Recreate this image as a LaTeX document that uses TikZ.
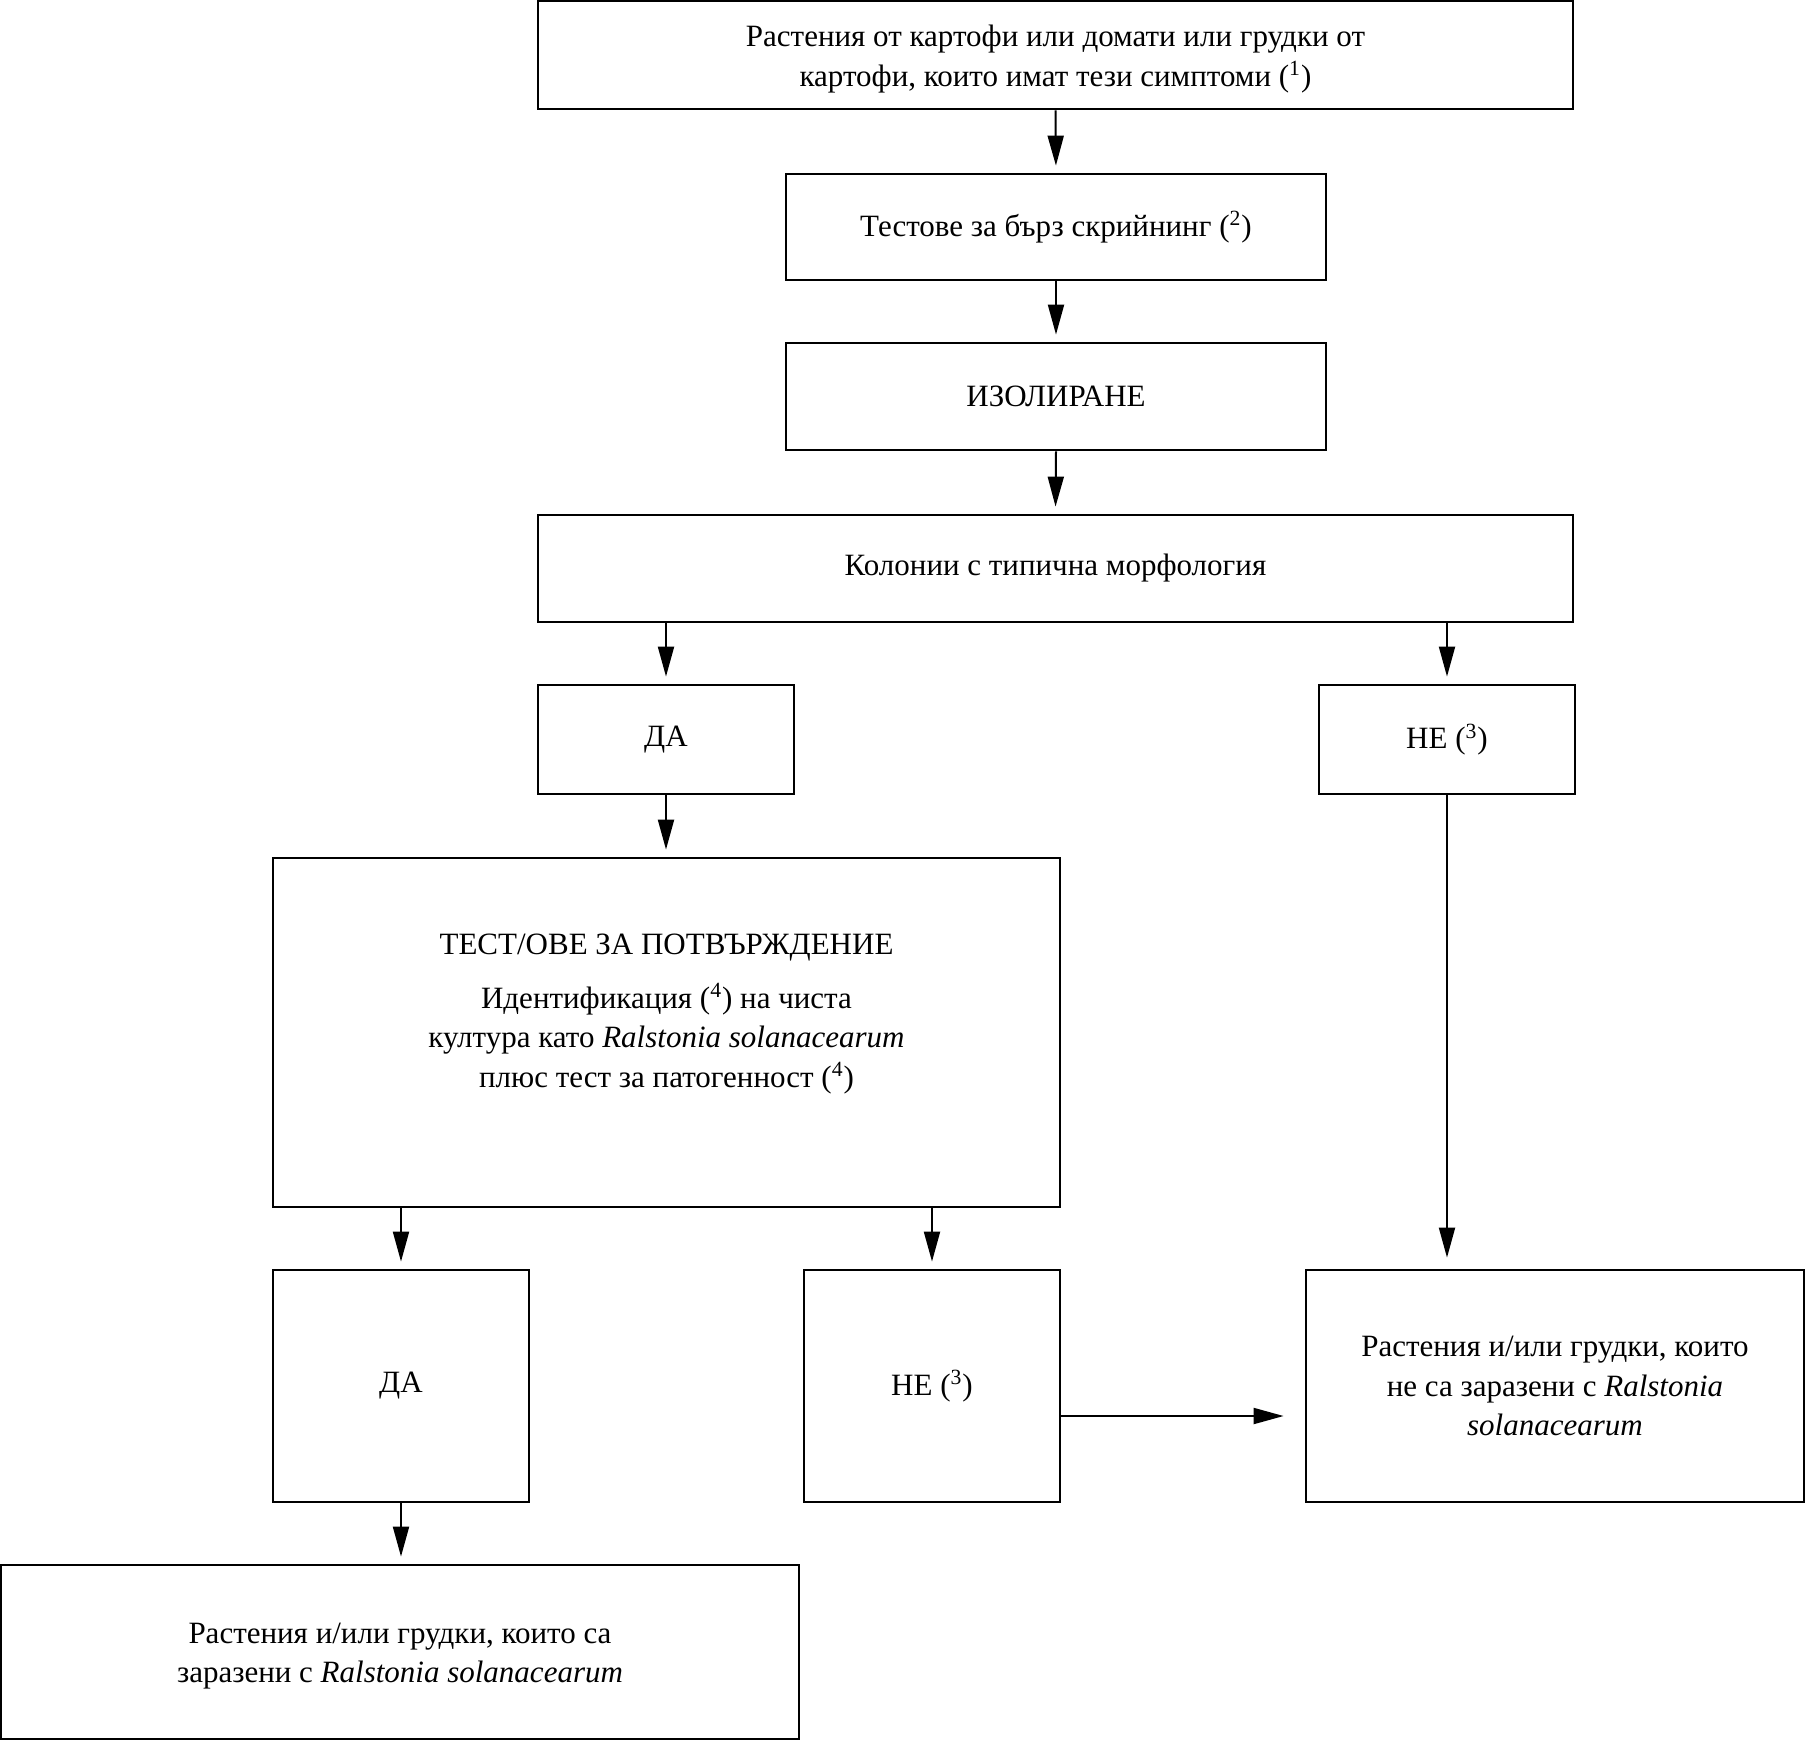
\documentclass[tikz,border=0pt]{standalone}
\usepackage{fontspec}
\setmainfont{Liberation Serif}
\usetikzlibrary{arrows.meta}
\newcommand\fsz{\fontsize{15.5pt}{19.8pt}\selectfont}
\newcommand\supn[1]{\textsuperscript{#1}}
\begin{document}
\begin{tikzpicture}[x=0.5pt,y=-0.5pt,
  box/.style={draw,line width=1.4pt,inner sep=0pt,align=center,font=\fsz},
  txt/.style={inner sep=0pt,align=center,font=\fsz},
  arr/.style={line width=1pt,-{Triangle[length=15pt,width=8pt]},shorten >=3.5pt}]
\useasboundingbox (0,0) rectangle (1806,1741);
\node[box,minimum width=517.5pt,minimum height=54pt] (b1) at (1055.5,55) {};
\node[txt] (b1txt) at (1055.5,59)
  {Растения от картофи или домати или грудки от\\картофи, които имат тези симптоми (\supn{1})};
\node[box,minimum width=270pt,minimum height=53pt] (b2) at (1056,227)
  {Тестове за бърз скрийнинг (\supn{2})};
\node[box,minimum width=270pt,minimum height=53.5pt] (b3) at (1056,396.5)
  {ИЗОЛИРАНЕ};
\node[box,minimum width=517.5pt,minimum height=53.5pt] (b4) at (1055.5,568.5)
  {Колонии с типична морфология};
\node[box,minimum width=128pt,minimum height=54.5pt] (da1) at (666,739.5) {ДА};
\node[box,minimum width=128pt,minimum height=54.5pt] (ne1) at (1447,739.5) {НЕ (\supn{3})};
\node[box,minimum width=393.5pt,minimum height=174.5pt] (test) at (666.5,1032.5) {};
\node[txt] (testtxt) at (666.5,1014)
  {ТЕСТ/ОВЕ ЗА ПОТВЪРЖДЕНИЕ\\[7pt]
   Идентификация (\supn{4}) на чиста\\
   култура като \textit{Ralstonia solanacearum}\\
   плюс тест за патогенност (\supn{4})};
\node[box,minimum width=128pt,minimum height=116pt] (da2) at (401,1386) {ДА};
\node[box,minimum width=128pt,minimum height=116pt] (ne2) at (932,1386) {НЕ (\supn{3})};
\node[box,minimum width=249pt,minimum height=116pt] (res) at (1555,1386)
  {Растения и/или грудки, които\\не са заразени с \textit{Ralstonia}\\\textit{solanacearum}};
\node[box,minimum width=399pt,minimum height=87pt] (bot) at (400,1652) {};
\node[txt] (bottxt) at (400,1656)
  {Растения и/или грудки, които са\\заразени с \textit{Ralstonia solanacearum}};
\draw[arr] (b1.south) -- (b2.north);
\draw[arr] (b2.south) -- (b3.north);
\draw[arr] (b3.south) -- (b4.north);
\draw[arr] (da1.north |- b4.south) -- (da1.north);
\draw[arr] (ne1.north |- b4.south) -- (ne1.north);
\draw[arr] (da1.south) -- (test.north -| da1.south);
\draw[arr,shorten >=5.5pt] (ne1.south) -- (ne1.south |- res.north);
\draw[arr] (da2.north |- test.south) -- (da2.north);
\draw[arr] (ne2.north |- test.south) -- (ne2.north);
\draw[arr] (da2.south) -- (bot.north -| da2.south);
\coordinate (h) at ([yshift=-15pt]ne2.east);
\draw[arr,shorten >=10.5pt] (h) -- (h -| res.west);
\end{tikzpicture}
\end{document}
